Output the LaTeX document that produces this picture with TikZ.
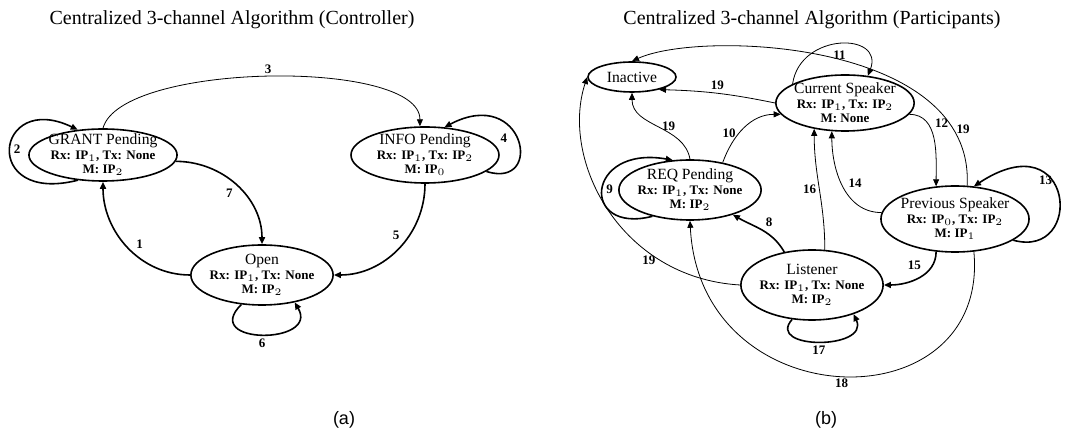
\documentclass[tikz,border=0pt]{standalone}
\usepackage{fontspec}
\setmainfont{Liberation Serif}
\newfontfamily\capfont{Liberation Sans}
\usetikzlibrary{shapes.geometric,arrows.meta}
\newcommand{\ip}[1]{IP$_{#1}$}
\newcommand{\subln}[1]{{\fontsize{6.5}{7}\selectfont\bfseries #1}}

\begin{document}
\begin{tikzpicture}[x=0.5pt,y=-0.5pt,
  state/.style={ellipse,draw,thick,inner xsep=-1pt,inner ysep=-2pt,align=center,font=\fontsize{7.8}{7.2}\selectfont},
  hard/.style={-{Triangle[length=3.5pt,width=3pt]},thick},
  soft/.style={-{Triangle[length=3.5pt,width=3pt]},thin},
  lbl/.style={font=\fontsize{6.5}{7}\selectfont\bfseries,inner sep=1.5pt},
  ttl/.style={font=\fontsize{10}{12}\selectfont}
]
\useasboundingbox (0,0) rectangle (1072,442);
% titles
\node[ttl] (ttla) at (232,20) {Centralized 3-channel Algorithm (Controller)};
\node[ttl] (ttlb) at (812,20) {Centralized 3-channel Algorithm (Participants)};
\node[font=\capfont\fontsize{9}{10}\selectfont] (capa) at (344,420) {(a)};
\node[font=\capfont\fontsize{9}{10}\selectfont] (capb) at (826,420) {(b)};

% controller
\node[state,minimum width=74pt,minimum height=26pt] (grant) at (103,155) {GRANT Pending\\\subln{Rx: \ip1, Tx: None}\\\subln{M: \ip2}};
\node[state,minimum width=74pt,minimum height=28pt] (info) at (425,155) {INFO Pending\\\subln{Rx: \ip1, Tx: \ip2}\\\subln{M: \ip0}};
\node[state,minimum width=64pt,minimum height=30pt] (open) at (262,275) {Open\\\subln{Rx: \ip1, Tx: None}\\\subln{M: \ip2}};

\draw[hard] (open.west) to[out=180,in=-90] node[lbl,pos=0.45,above right] {1} (grant.south);
\draw[hard] (grant.225) .. controls (-20,205) and (-5,90) .. node[lbl,pos=0.5,right] {2} (grant.135);
\draw[soft] (grant.north) to[out=75,in=90,looseness=0.55] node[lbl,above] {3} (info.100);
\draw[hard] (info.-15) .. controls (545,190) and (525,85) .. node[lbl,pos=0.6,below left] {4} (info.55);
\draw[hard] (info.south) to[out=-90,in=0] node[lbl,pos=0.45,above left] {5} (open.east);
\draw[hard] (open.235) .. controls (200,345) and (320,345) .. node[lbl,below] {6} (open.-40);
\draw[hard] (grant.-5) to[out=0,in=90] node[lbl,pos=0.5,below left] {7} (open.north);

% participants
\node[state,minimum width=44pt,minimum height=15pt] (inact) at (632,77) {Inactive};
\node[state,minimum width=60pt,minimum height=28pt] (cur) at (845,103) {Current Speaker\\\subln{Rx: \ip1, Tx: \ip2}\\\subln{M: None}};
\node[state,minimum width=65pt,minimum height=30pt] (req) at (690,190) {REQ Pending\\\subln{Rx: \ip1, Tx: None}\\\subln{M: \ip2}};
\node[state,minimum width=67pt,minimum height=33pt] (prev) at (955,219) {Previous Speaker\\\subln{Rx: \ip0, Tx: \ip2}\\\subln{M: \ip1}};
\node[state,minimum width=67pt,minimum height=35pt] (lis) at (812,285) {Listener\\\subln{Rx: \ip1, Tx: None}\\\subln{M: \ip2}};

\draw[hard] (lis.130) to[out=120,in=-30] node[lbl,pos=0.5,above right] {8} (req.-30);
\draw[hard] (req.215) .. controls (580,235) and (585,145) .. node[lbl,pos=0.5,right] {9} (req.120);
\draw[soft] (req.40) to[out=70,in=180] node[lbl,pos=0.4,left] {10} (cur.190);
\draw[soft] (cur.160) .. controls (800,32) and (885,32) .. node[lbl,pos=0.5,below=2pt] {11} (cur.50);
\draw[soft] (cur.-10) to[out=0,in=90] node[lbl,pos=0.4,above right] {12} (prev.120);
\draw[hard] (prev.-20) .. controls (1085,260) and (1075,120) .. node[lbl,pos=0.55,above left] {13} (prev.60);
\draw[soft] (prev.175) to[out=180,in=-90] node[lbl,pos=0.45,above right] {14} (cur.-115);
\draw[hard] (prev.-120) to[out=-90,in=0] node[lbl,pos=0.4,above left] {15} (lis.east);
\draw[soft] (lis.70) to[out=90,in=-90] node[lbl,pos=0.5,left] {16} (cur.-140);
\draw[hard] (lis.240) .. controls (765,350) and (870,350) .. node[lbl,below] {17} (lis.-35);
\draw[soft] (prev.-60) .. controls (990,425) and (700,420) .. node[lbl,pos=0.5,below] {18} (req.south);
\draw[soft] (cur.west) to[bend right=5] node[lbl,above] {19} (inact.-25);
\draw[soft] (req.north) to[out=100,in=-90] node[lbl,pos=0.5,right] {19} (inact.south);
\draw[soft] (lis.west) .. controls (620,278) and (560,160) .. node[lbl,pos=0.3,below] {19} (inact.west);
\draw[soft] (prev.70) .. controls (975,40) and (700,30) .. node[lbl,pos=0.15,right] {19} (inact.north);
\end{tikzpicture}
\end{document}
